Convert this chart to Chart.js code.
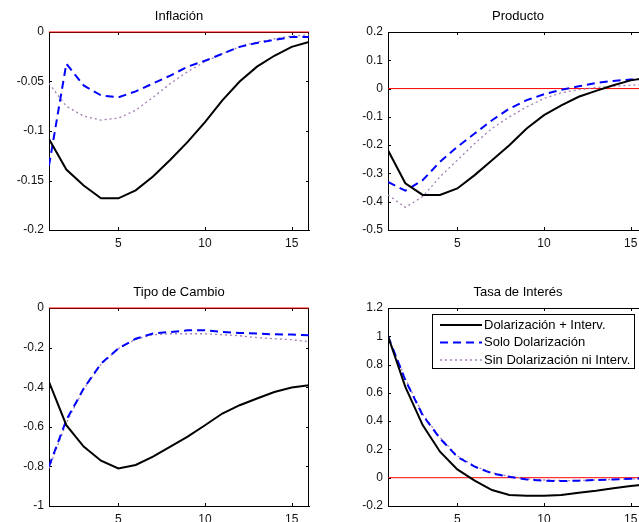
<!DOCTYPE html>
<html>
<head>
<meta charset="utf-8">
<script src="https://cdn.jsdelivr.net/npm/chart.js@4.4.0/dist/chart.umd.min.js"></script>
<style>
  html, body { margin: 0; padding: 0; background: #fff; overflow: hidden; width: 639px; height: 522px; position: relative; }
  canvas { position: absolute; }
</style>
</head>
<body>
<canvas id="inflacion" width="320" height="260" style="left:0;top:0"></canvas>
<canvas id="producto" width="340" height="260" style="left:320px;top:0"></canvas>
<canvas id="cambio" width="320" height="260" style="left:0;top:276px"></canvas>
<canvas id="tasa" width="340" height="260" style="left:320px;top:276px"></canvas>
<script>
const periods = [1, 2, 3, 4, 5, 6, 7, 8, 9, 10, 11, 12, 13, 14, 15, 16];
const xTicks = [5, 10, 15];
const seriesLabels = ['Dolarización + Interv.', 'Solo Dolarización', 'Sin Dolarización ni Interv.'];

// Inflación
const inflDolInterv = [-0.108, -0.139, -0.155, -0.168, -0.168, -0.160, -0.146, -0.129, -0.111, -0.091, -0.069, -0.050, -0.035, -0.024, -0.015, -0.010];
const inflSoloDol   = [-0.135, -0.032, -0.054, -0.064, -0.066, -0.060, -0.052, -0.044, -0.035, -0.029, -0.022, -0.015, -0.011, -0.008, -0.005, -0.005];
const inflSinDol    = [-0.052, -0.075, -0.085, -0.089, -0.087, -0.079, -0.066, -0.052, -0.040, -0.030, -0.022, -0.015, -0.010, -0.007, -0.004, -0.003];
const inflTicks = [0, -0.05, -0.1, -0.15, -0.2];

// Producto
const prodDolInterv = [-0.218, -0.335, -0.376, -0.376, -0.353, -0.306, -0.253, -0.200, -0.141, -0.094, -0.059, -0.029, -0.008, 0.012, 0.029, 0.038];
const prodSoloDol   = [-0.330, -0.361, -0.324, -0.259, -0.206, -0.159, -0.112, -0.071, -0.041, -0.020, -0.004, 0.008, 0.020, 0.027, 0.032, 0.034];
const prodSinDol    = [-0.376, -0.420, -0.382, -0.312, -0.253, -0.194, -0.141, -0.100, -0.065, -0.035, -0.015, -0.004, 0.004, 0.008, 0.012, 0.015];
const prodTicks = [0.2, 0.1, 0, -0.1, -0.2, -0.3, -0.4, -0.5];

// Tipo de Cambio
const tcDolInterv = [-0.373, -0.592, -0.700, -0.771, -0.810, -0.793, -0.751, -0.700, -0.650, -0.592, -0.533, -0.491, -0.457, -0.424, -0.402, -0.390];
const tcSoloDol   = [-0.800, -0.566, -0.407, -0.281, -0.205, -0.155, -0.129, -0.121, -0.113, -0.113, -0.121, -0.126, -0.129, -0.133, -0.134, -0.138];
const tcSinDol    = [-0.810, -0.580, -0.410, -0.285, -0.205, -0.158, -0.135, -0.130, -0.130, -0.130, -0.135, -0.140, -0.150, -0.155, -0.160, -0.170];
const tcTicks = [0, -0.2, -0.4, -0.6, -0.8, -1];

// Tasa de Interés
const tasaDolInterv = [1.000, 0.642, 0.372, 0.184, 0.059, -0.021, -0.087, -0.122, -0.127, -0.127, -0.122, -0.106, -0.092, -0.075, -0.059, -0.047];
const tasaSoloDol   = [1.000, 0.690, 0.442, 0.278, 0.148, 0.078, 0.031, 0.007, -0.012, -0.021, -0.024, -0.021, -0.016, -0.012, -0.007, -0.005];
const tasaSinDol    = [1.000, 0.700, 0.450, 0.285, 0.155, 0.082, 0.035, 0.010, -0.008, -0.016, -0.020, -0.020, -0.016, -0.012, -0.008, -0.005];
const tasaTicks = [1.2, 1, 0.8, 0.6, 0.4, 0.2, 0, -0.2];

const FONT = "'Liberation Sans', Arial, sans-serif";
const toPoints = ys => ys.map((y, i) => ({ x: periods[i], y }));

// MATLAB style box: top/right border and inward tick marks
const framePlugin = {
    id: 'frame',
    beforeDatasetsDraw(chart) {
        const { ctx, chartArea: a, scales } = chart;
        ctx.save();
        ctx.strokeStyle = '#000';
        ctx.lineWidth = 1;
        ctx.beginPath();
        ctx.moveTo(a.left, Math.round(a.top) + 0.5);
        ctx.lineTo(a.right, Math.round(a.top) + 0.5);
        ctx.moveTo(Math.round(a.right) - 0.5, a.top);
        ctx.lineTo(Math.round(a.right) - 0.5, a.bottom);
        scales.x.ticks.forEach(t => {
            const px = Math.round(scales.x.getPixelForValue(t.value)) + 0.5;
            ctx.moveTo(px, a.bottom); ctx.lineTo(px, a.bottom - 3);
            ctx.moveTo(px, a.top); ctx.lineTo(px, a.top + 3);
        });
        scales.y.ticks.forEach(t => {
            const py = Math.round(scales.y.getPixelForValue(t.value)) + 0.5;
            ctx.moveTo(a.left, py); ctx.lineTo(a.left + 3, py);
            ctx.moveTo(a.right, py); ctx.lineTo(a.right - 3, py);
        });
        ctx.stroke();
        ctx.restore();
    }
};

// boxed legend inside the plot area
const boxLegendPlugin = {
    id: 'boxLegend',
    afterDatasetsDraw(chart, args, opts) {
        if (!opts.display) return;
        const { ctx, chartArea: a } = chart;
        const x0 = a.left + 44, y0 = a.top + 6, w = 202, h = 54;
        ctx.save();
        ctx.fillStyle = '#fff';
        ctx.fillRect(x0, y0, w, h);
        ctx.strokeStyle = '#000';
        ctx.lineWidth = 1;
        ctx.strokeRect(x0 + 0.5, y0 + 0.5, w, h);
        ctx.font = '13px ' + FONT;
        ctx.textBaseline = 'middle';
        chart.data.datasets.filter(d => d.label).forEach((d, i) => {
            const y = y0 + 11 + i * 17.5;
            ctx.strokeStyle = d.borderColor;
            ctx.lineWidth = d.borderWidth;
            ctx.setLineDash(d.borderDash || []);
            ctx.beginPath();
            ctx.moveTo(x0 + 8, y);
            ctx.lineTo(x0 + 50, y);
            ctx.stroke();
            ctx.setLineDash([]);
            ctx.fillStyle = '#000';
            ctx.fillText(d.label, x0 + 52, y);
        });
        ctx.restore();
    }
};

function makeChart(id, title, series, yTicks, yWidth, padLeft, padRight, legend) {
    const yMin = Math.min(...yTicks), yMax = Math.max(...yTicks);
    new Chart(document.getElementById(id), {
        type: 'line',
        data: {
            datasets: [
                { label: seriesLabels[0], data: toPoints(series[0]), borderColor: '#000', borderWidth: 2, pointRadius: 0 },
                { label: seriesLabels[1], data: toPoints(series[1]), borderColor: '#0000ff', borderWidth: 2, borderDash: [8, 5], pointRadius: 0 },
                { label: seriesLabels[2], data: toPoints(series[2]), borderColor: '#a27fb4', borderWidth: 1.3, borderDash: [2, 3], pointRadius: 0 },
                { label: '', data: [{ x: 1, y: 0 }, { x: 16, y: 0 }], borderColor: '#ff0000', borderWidth: 1, pointRadius: 0, clip: false }
            ]
        },
        options: {
            responsive: false,
            animation: false,
            layout: { padding: { left: padLeft, right: padRight, top: 0, bottom: 0 } },
            elements: { line: { tension: 0 } },
            scales: {
                x: {
                    type: 'linear', min: 1, max: 16,
                    afterBuildTicks: s => { s.ticks = xTicks.map(v => ({ value: v })); },
                    afterFit: s => { s.height = 30; },
                    grid: { display: false, drawTicks: false },
                    border: { color: '#000', width: 1 },
                    ticks: { padding: 6, color: '#111', font: { size: 12, family: FONT } }
                },
                y: {
                    type: 'linear', min: yMin, max: yMax,
                    afterBuildTicks: s => { s.ticks = yTicks.map(v => ({ value: v })); },
                    afterFit: s => { s.width = yWidth; },
                    grid: { display: false, drawTicks: false },
                    border: { color: '#000', width: 1 },
                    ticks: {
                        padding: 5, color: '#111', font: { size: 12, family: FONT },
                        callback: v => String(parseFloat(Number(v).toFixed(3)))
                    }
                }
            },
            plugins: {
                legend: { display: false },
                tooltip: { enabled: false },
                title: {
                    display: true, text: title, color: '#000', fullSize: false,
                    font: { size: 13, weight: 'normal', family: FONT },
                    padding: { top: 8.2, bottom: 8.2 }
                },
                boxLegend: { display: legend }
            }
        },
        plugins: [framePlugin, boxLegendPlugin]
    });
}

makeChart('inflacion', 'Inflación', [inflDolInterv, inflSoloDol, inflSinDol], inflTicks, 49, 0, 11, false);
makeChart('producto', 'Producto', [prodDolInterv, prodSoloDol, prodSinDol], prodTicks, 68, 0, 12, false);
makeChart('cambio', 'Tipo de Cambio', [tcDolInterv, tcSoloDol, tcSinDol], tcTicks, 49, 0, 11, false);
makeChart('tasa', 'Tasa de Interés', [tasaDolInterv, tasaSoloDol, tasaSinDol], tasaTicks, 68, 0, 12, true);
</script>
</body>
</html>
